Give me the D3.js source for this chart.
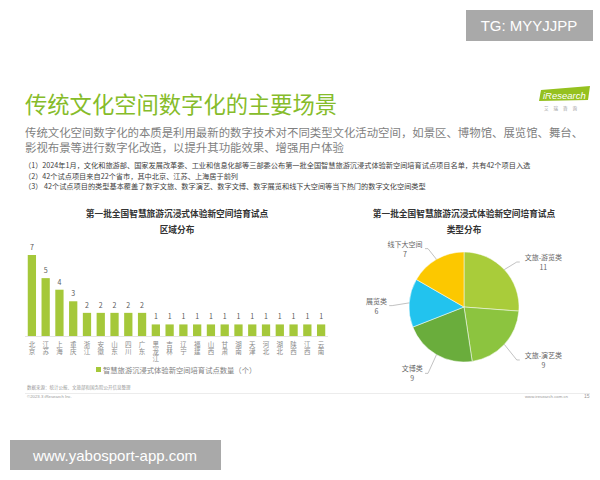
<!DOCTYPE html>
<html lang="zh">
<head>
<meta charset="UTF-8">
<title>传统文化空间数字化的主要场景</title>
<script src="https://d3js.org/d3.v7.min.js"></script>
<style>
  body { margin: 0; background: #fff; }
  svg { display: block; font-family: "Noto Sans CJK SC", "Noto Sans", sans-serif; }
  .gray { fill: #7f7f7f; }
  .dark { fill: #404040; }
  .xl { writing-mode: vertical-rl; text-orientation: upright; }
</style>
</head>
<body>
<div id="chart"></div>
<script>
// bar chart: pilot projects by province
const provinces = ["北京", "江苏", "上海", "重庆", "浙江", "安徽", "山东", "四川", "广东", "黑龙江", "吉林",
  "辽宁", "福建", "山西", "甘肃", "湖南", "天津", "河北", "湖北", "陕西", "江西", "云南"];
const counts = [7, 5, 4, 3, 2, 2, 2, 2, 2, 1, 1, 1, 1, 1, 1, 1, 1, 1, 1, 1, 1, 1];

// pie chart: pilot projects by type
const types = ["文旅-游览类", "文旅-演艺类", "文博类", "展览类", "线下大空间"];
const typeCounts = [11, 9, 9, 6, 7];
const typeColors = ["#a9cc3a", "#8cc43f", "#6aad3c", "#22c3ee", "#fcc800"];

const notes = [
  "（1）2024年1月，文化和旅游部、国家发展改革委、工业和信息化部等三部委公布第一批全国智慧旅游沉浸式体验新空间培育试点项目名单，共有42个项目入选",
  "（2）42个试点项目来自22个省市，其中北京、江苏、上海居于前列",
  "（3） 42个试点项目的类型基本覆盖了数字文旅、数字演艺、数字文博、数字展览和线下大空间等当下热门的数字文化空间类型"
];

const W = 600, H = 480;
const svg = d3.select("#chart").append("svg")
  .attr("width", W).attr("height", H);

svg.append("rect").attr("width", W).attr("height", H).attr("fill", "#fff");

// watermark boxes
svg.append("rect").attr("x", 466).attr("y", 10).attr("width", 127).attr("height", 31).attr("fill", "#a9a9a9");
svg.append("text").attr("x", 529).attr("y", 31).attr("text-anchor", "middle")
  .attr("fill", "#fff").attr("font-size", 15).attr("font-family", "Liberation Sans, sans-serif")
  .text("TG: MYYJJPP");
svg.append("rect").attr("x", 10).attr("y", 440).attr("width", 211).attr("height", 30).attr("fill", "#a9a9a9");
svg.append("text").attr("x", 115).attr("y", 461).attr("text-anchor", "middle")
  .attr("fill", "#fff").attr("font-size", 15).attr("font-family", "Liberation Sans, sans-serif")
  .text("www.yabosport-app.com");

// title
svg.append("text").attr("x", 25).attr("y", 113)
  .attr("fill", "#86bc2a").attr("font-size", 22.3)
  .text("传统文化空间数字化的主要场景");

// logo
svg.append("path").attr("d", "M541,90 L590,86 L588,100 L539,101 Z").attr("fill", "#95c11f");
svg.append("text").attr("x", 543).attr("y", 98.5).attr("fill", "#fff").attr("font-size", 9.5)
  .attr("font-style", "italic").attr("font-family", "Liberation Sans, sans-serif").text("iResearch");
svg.append("text").attr("x", 563).attr("y", 110).attr("text-anchor", "middle").attr("fill", "#999")
  .attr("font-size", 4.5).attr("letter-spacing", 5).text("艾瑞咨询");

// subtitle
svg.append("text").attr("class", "gray").attr("x", 25).attr("y", 137).attr("font-size", 11.4)
  .text("传统文化空间数字化的本质是利用最新的数字技术对不同类型文化活动空间，如景区、博物馆、展览馆、舞台、");
svg.append("text").attr("class", "gray").attr("x", 25).attr("y", 152).attr("font-size", 11.4)
  .text("影视布景等进行数字化改造，以提升其功能效果、增强用户体验");

svg.selectAll(".note").data(notes).join("text")
  .attr("class", "note dark")
  .attr("x", 24).attr("y", (d, i) => 168 + i * 10.6)
  .attr("font-size", 7.2)
  .text(d => d);

// ---- chart headers ----
const chartTitle = "第一批全国智慧旅游沉浸式体验新空间培育试点";
[[177, "区域分布"], [464, "类型分布"]].forEach(([hx, sub]) => {
  svg.append("text").attr("x", hx).attr("y", 217).attr("text-anchor", "middle")
    .attr("font-size", 8.7).attr("font-weight", "bold").attr("fill", "#333").text(chartTitle);
  svg.append("text").attr("x", hx).attr("y", 233).attr("text-anchor", "middle")
    .attr("font-size", 8.7).attr("font-weight", "bold").attr("fill", "#333").text(sub);
});

// ---- bar chart ----
const x = d3.scaleBand().domain(provinces).range([25, 328]).paddingInner(0.4).paddingOuter(0.2);
const y = d3.scaleLinear().domain([0, 7]).range([336, 255]);

svg.append("line").attr("x1", 25).attr("x2", 328).attr("y1", y(0) + 0.5).attr("y2", y(0) + 0.5)
  .attr("stroke", "#e4e4e4");

svg.selectAll(".bar").data(counts).join("rect")
  .attr("class", "bar")
  .attr("x", (d, i) => x(provinces[i]))
  .attr("y", d => y(d))
  .attr("width", x.bandwidth())
  .attr("height", d => y(0) - y(d))
  .attr("fill", "#a5c83a");

svg.selectAll(".val").data(counts).join("text")
  .attr("class", "val")
  .attr("x", (d, i) => x(provinces[i]) + x.bandwidth() / 2)
  .attr("y", d => y(d) - 5)
  .attr("text-anchor", "middle").attr("font-size", 7).attr("fill", "#595959")
  .text(d => d);

// vertical province labels
svg.selectAll(".xl").data(provinces).join("text")
  .attr("class", "xl")
  .attr("x", p => x(p) + x.bandwidth() / 2)
  .attr("y", 341)
  .attr("font-size", 6.5).attr("fill", "#8a8a8a")
  .attr("letter-spacing", 0.6)
  .text(p => p);

// legend
svg.append("rect").attr("x", 96).attr("y", 367).attr("width", 5).attr("height", 5).attr("fill", "#a5c83a");
svg.append("text").attr("x", 103).attr("y", 373).attr("font-size", 7.3).attr("fill", "#7f7f7f")
  .text("智慧旅游沉浸式体验新空间培育试点数量（个）");

// footer
svg.append("text").attr("x", 27).attr("y", 389).attr("font-size", 4.5).attr("fill", "#999")
  .text("数据来源：统计公报、文旅部和国务院公开信息整理");
svg.append("line").attr("x1", 25).attr("x2", 590).attr("y1", 393.5).attr("y2", 393.5).attr("stroke", "#ececec");
svg.append("text").attr("x", 27).attr("y", 398).attr("font-size", 4.3).attr("fill", "#999")
  .attr("font-family", "Liberation Sans, sans-serif").text("©2023.3 iResearch Inc.");
svg.append("text").attr("x", 568).attr("y", 398).attr("text-anchor", "end").attr("font-size", 4.3)
  .attr("fill", "#999").attr("font-family", "Liberation Sans, sans-serif").text("www.iresearch.com.cn");
svg.append("text").attr("x", 584).attr("y", 398).attr("font-size", 5).attr("fill", "#999")
  .attr("font-family", "Liberation Sans, sans-serif").text("15");

// ---- pie chart ----
const cx = 464, cy = 307, r = 55;
const pie = d3.pie().sort(null).value(d => d)(typeCounts);
const arc = d3.arc().innerRadius(0).outerRadius(r);
const g = svg.append("g").attr("transform", `translate(${cx},${cy})`);

g.selectAll(".slice").data(pie).join("path")
  .attr("class", "slice")
  .attr("d", arc)
  .attr("fill", (d, i) => typeColors[i])
  .attr("stroke", "#fff").attr("stroke-width", 0.5);

pie.forEach((d, i) => {
  const a = (d.startAngle + d.endAngle) / 2;
  const ex = Math.sin(a) * r, ey = -Math.cos(a) * r;
  const bx = Math.sin(a) * (r + 17), by = -Math.cos(a) * (r + 17) + 4;
  const right = bx > 0;
  const hx = bx + (right ? 3 : -3);
  g.append("polyline")
    .attr("points", `${ex},${ey} ${bx},${by} ${hx},${by}`)
    .attr("fill", "none").attr("stroke", "#999").attr("stroke-width", 0.6);
  const half = types[i].length * 3.6;
  const tx = hx + (right ? half + 2 : -half - 2);
  const t = g.append("text").attr("text-anchor", "middle").attr("font-size", 7).attr("fill", "#666");
  t.append("tspan").attr("x", tx).attr("y", by - 2).text(types[i]);
  t.append("tspan").attr("x", tx).attr("y", by + 8).text(typeCounts[i]);
});
</script>
</body>
</html>
